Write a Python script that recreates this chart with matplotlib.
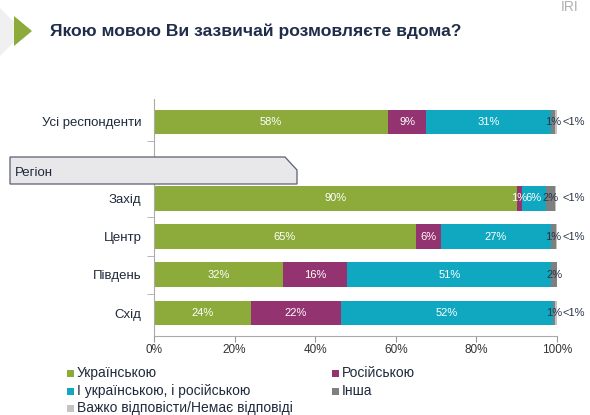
import matplotlib
matplotlib.use("Agg")
import matplotlib.pyplot as plt
from matplotlib.patches import Polygon

plt.rcParams['font.family'] = ['Liberation Sans', 'DejaVu Sans']

categories = ["Усі респонденти", "", "Захід", "Центр", "Південь", "Схід"]
series_names = ["Українською", "Російською", "І українською, і російською", "Інша",
                "Важко відповісти/Немає відповіді"]
ukr = [58, None, 90, 65, 32, 24]
rus = [9.6, None, 1.3, 6.2, 16, 22.5]
both = [30.8, None, 5.9, 27.2, 50.6, 52.5]
other = [1.2, None, 2.4, 1.3, 1.7, 0.6]
hard = [0.4, None, 0.2, 0.3, 0.0, 0.4]
ukr_lbl = ["58%", "", "90%", "65%", "32%", "24%"]
rus_lbl = ["9%", "", "1%", "6%", "16%", "22%"]
both_lbl = ["31%", "", "6%", "27%", "51%", "52%"]
other_lbl = ["1%", "", "2%", "1%", "2%", "1%"]
hard_lbl = ["<1%", "", "<1%", "<1%", "", "<1%"]
xticks = [0, 20, 40, 60, 80, 100]
xtick_lbl = ["0%", "20%", "40%", "60%", "80%", "100%"]

colors = ["#8cab3b", "#93336f", "#10a8c0", "#7f7f7f", "#c4c4c4"]
navy = "#1f2d4a"
textc = "#1f2a3c"

W, H = 590, 415
fig = plt.figure(figsize=(W / 100, H / 100), dpi=100)
fig.patch.set_facecolor("white")

def fx(x):
    return x / W

def fy(y):
    return 1 - y / H

ax = fig.add_axes([fx(154), fy(336), fx(557) - fx(154), fy(99) - fy(336)])

series = [ukr, rus, both, other, hard]
labels = [ukr_lbl, rus_lbl, both_lbl, other_lbl, hard_lbl]
for i, cat in enumerate(categories):
    if ukr[i] is None:
        continue
    left = 0
    for s, (vals, lbls) in enumerate(zip(series, labels)):
        v = vals[i]
        ax.barh(i, v, left=left, height=0.65, color=colors[s], edgecolor="none")
        if s < 3:
            ax.text(left + v / 2, i, lbls[i], ha="center", va="center",
                    color="white", fontsize=8)
        elif s == 3:
            ax.text(left + v / 2, i, lbls[i], ha="center", va="center",
                    color="#2a3445", fontsize=8)
        else:
            if lbls[i]:
                ax.text(101.3, i, lbls[i], ha="left", va="center",
                        color="#2a3445", fontsize=8)
        left += v

ax.set_xlim(0, 100)
ax.set_ylim(5.6, -0.6)
ax.set_yticks([0, 2, 3, 4, 5])
ax.set_yticklabels(["Усі респонденти", "Захід", "Центр", "Південь", "Схід"],
                   fontsize=9.5, color=textc)
ax.set_yticks([0.5, 1.5, 2.5, 3.5, 4.5], minor=True)
ax.tick_params(axis="y", which="major", length=0, pad=9)
ax.tick_params(axis="y", which="minor", length=5, color="#aaaaaa")
ax.set_xticks(xticks)
ax.set_xticklabels(xtick_lbl, fontsize=8.5, color="#333333")
ax.tick_params(axis="x", length=4, color="#999999", pad=2)
for sp in ["top", "right"]:
    ax.spines[sp].set_visible(False)
ax.spines["left"].set_color("#aaaaaa")
ax.spines["bottom"].set_color("#aaaaaa")

# Region box
pts = [(10, 157), (285, 157), (297, 170), (297, 184), (10, 184)]
poly = Polygon([(fx(x), fy(y)) for x, y in pts], closed=True, transform=fig.transFigure,
               facecolor="#e8e8ea", edgecolor="#5a6070", linewidth=0.9, zorder=5)
fig.patches.append(poly)
fig.text(fx(15), fy(173), "Регіон", fontsize=9.5, color=textc, va="center", zorder=6)

# Decorations and title
deco = Polygon([(fx(0), fy(8)), (fx(14), fy(22)), (fx(14), fy(42)), (fx(0), fy(56))],
               closed=True, transform=fig.transFigure, facecolor="#f0f0f0",
               edgecolor="none")
fig.patches.append(deco)
tri = Polygon([(fx(14), fy(16)), (fx(32), fy(31)), (fx(14), fy(46))], closed=True,
              transform=fig.transFigure, facecolor="#8cab3b", edgecolor="none")
fig.patches.append(tri)
fig.text(fx(50), fy(31), "Якою мовою Ви зазвичай розмовляєте вдома?", fontsize=12.6,
         fontweight="bold", color=navy, va="center", ha="left")
fig.text(fx(579), fy(7), "IRI", fontsize=10, color="#b0b0b0", va="center", ha="right")

# Legend
leg_pos = [(67, 373), (332, 373), (67, 391), (332, 391), (67, 408)]
for (x, y), c, name in zip(leg_pos, colors, series_names):
    fig.patches.append(plt.Rectangle((fx(x), fy(y + 4)), fx(7), 7 / H,
                                     transform=fig.transFigure, facecolor=c,
                                     edgecolor="none"))
    fig.text(fx(x + 10), fy(y), name, fontsize=10, color=textc, va="center")

fig.savefig("out.png", dpi=100)
